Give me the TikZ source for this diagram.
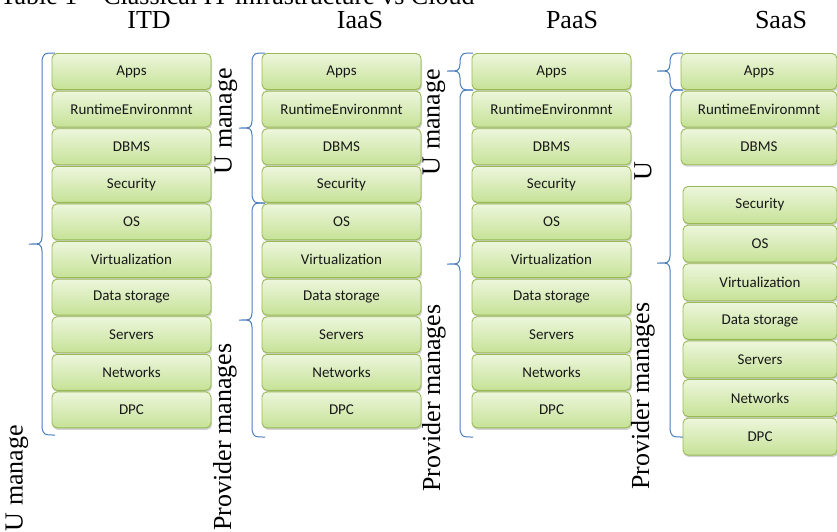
\documentclass[tikz,border=0pt]{standalone}
\usepackage{fontspec}
\setmainfont{Liberation Serif}
\newfontfamily\boxfont{Carlito}
\usepackage{xcolor}
\usepackage{tikz}
\usetikzlibrary{shadows}
\definecolor{layertop}{HTML}{EDF6DC}
\definecolor{layerbot}{HTML}{C6E297}
\definecolor{layerline}{HTML}{98B954}
\definecolor{bracecol}{HTML}{4A7EBB}
\newcommand{\drawbrace}[4]{\draw[bracepen] (#1+13,#2) .. controls (#1+2,#2) .. (#1,#2+7) -- (#1,#4-7) .. controls (#1-1,#4) .. (#1-13,#4) .. controls (#1-1,#4) .. (#1,#4+7) -- (#1,#3-7) .. controls (#1+2,#3) .. (#1+13,#3);}

\begin{document}
\begin{tikzpicture}[x=1pt, y=-1pt,
	layer/.style={draw=layerline, line width=0.9pt, rounded corners=5pt, top color=layertop, bottom color=layerbot,
		minimum width=159pt, minimum height=36pt, inner sep=0pt, text=black!90,
		font=\boxfont\fontsize{15}{18}\selectfont,
		drop shadow={opacity=0.35, shadow xshift=1pt, shadow yshift=-2pt}},
	head/.style={font=\fontsize{26}{30}\selectfont, anchor=base},
	side/.style={font=\fontsize{26}{30}\selectfont, rotate=90},
	bracepen/.style={draw=bracecol, line width=1pt}]
			\useasboundingbox (0,0) rectangle (837,531);
			\clip (0,0) rectangle (837,531);

			\node[head] (cap) at (478,4) [anchor=base east] {Table 1 – Classical IT infrastructure vs Cloud};
			\node[head] (itd) at (149,28) {ITD};
			\node[head] (iaas) at (360,28) {IaaS};
			\node[head] (paas) at (572,28) {PaaS};
			\node[head] (saas) at (781,28) {SaaS};

			\foreach \name [count=\i] in {Apps,RuntimeEnvironmnt,DBMS,Security,OS,Virtualization,Data storage,Servers,Networks,DPC}{
				\node[layer] (itd\i) at (131.5,{71.5+37.6*(\i-1)}) {\name};
				\node[layer] (iaas\i) at (341.5,{71.5+37.6*(\i-1)}) {\name};
				\node[layer] (paas\i) at (551.5,{71.5+37.6*(\i-1)}) {\name};
			}
			\foreach \name [count=\i] in {Apps,RuntimeEnvironmnt,DBMS}
				\node[layer, minimum width=156pt] (saasu\i) at (759,{71.5+37.6*(\i-1)}) {\name};
			\foreach \name [count=\i] in {Security,OS,Virtualization,Data storage,Servers,Networks,DPC}
				\node[layer, minimum width=154pt, minimum height=37pt] (saasp\i) at (760,{205+38.6*(\i-1)}) {\name};

			\drawbrace{42}{53}{435}{244}
			\drawbrace{252}{53}{203}{128}
			\drawbrace{252}{203}{437}{320}
			\drawbrace{460}{53}{90}{71}
			\drawbrace{460}{90}{437}{264}
			\drawbrace{670}{53}{90}{71}
			\drawbrace{670}{90}{437}{263}

			\node[side] (itdown) at (17,478) {U manage};
			\node[side] (iaasown) at (226,121) {U manage};
			\node[side] (iaasprov) at (225,437) {Provider manages};
			\node[side] (paasown) at (434,122) {U manage};
			\node[side] (paasprov) at (434,398) {Provider manages};
			\node[side] (saasown) at (643,171) {U};
			\node[side] (saasprov) at (643,396) {Provider manages};

		\end{tikzpicture}
\end{document}
